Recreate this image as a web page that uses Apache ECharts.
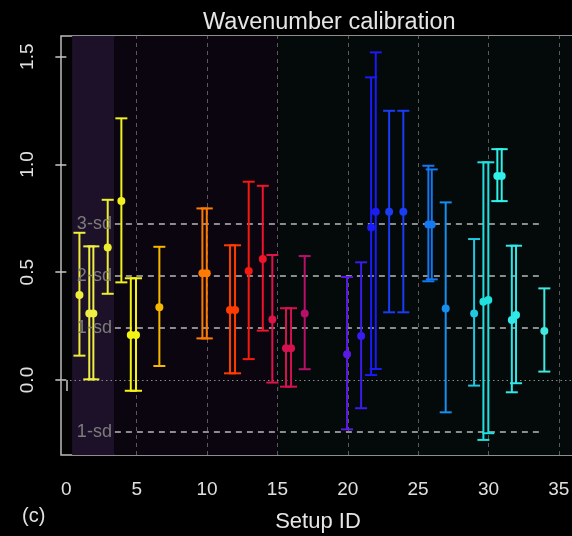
<!DOCTYPE html>
<html>
<head>
<meta charset="utf-8">
<script src="https://cdn.jsdelivr.net/npm/echarts/dist/echarts.min.js"></script>
<style>
html,body{margin:0;padding:0;background:#000;}
#chart{width:572px;height:536px;}
</style>
</head>
<body>
<div id="chart"></div>
<script>
// ---- data ----
var setupX = [0.93, 1.63, 1.92, 2.94, 3.91, 4.58, 4.95, 6.61, 9.67, 9.98, 11.63, 11.99, 12.96, 13.96, 14.64, 15.61, 15.97, 16.94, 19.95, 20.95, 21.66, 21.99, 22.94, 23.95, 25.73, 25.97, 26.96, 28.98, 29.64, 29.99, 30.63, 30.94, 31.66, 31.96, 33.97];
var means  = [0.394, 0.309, 0.309, 0.615, 0.830, 0.209, 0.209, 0.337, 0.495, 0.495, 0.325, 0.325, 0.506, 0.561, 0.281, 0.147, 0.147, 0.309, 0.120, 0.204, 0.708, 0.781, 0.781, 0.781, 0.722, 0.722, 0.332, 0.309, 0.363, 0.371, 0.946, 0.946, 0.278, 0.301, 0.227];
var lower  = [0.113, 0.003, 0.003, 0.400, 0.453, -0.050, -0.050, 0.065, 0.193, 0.193, 0.031, 0.031, 0.097, 0.229, -0.012, -0.031, -0.031, 0.050, -0.229, -0.131, 0.023, 0.051, 0.314, 0.314, 0.458, 0.467, -0.150, -0.026, -0.278, -0.247, 0.830, 0.830, -0.057, -0.015, 0.039];
var upper  = [0.683, 0.620, 0.620, 0.836, 1.214, 0.472, 0.472, 0.618, 0.796, 0.796, 0.625, 0.625, 0.920, 0.901, 0.580, 0.333, 0.333, 0.575, 0.478, 0.546, 1.404, 1.520, 1.249, 1.249, 0.994, 0.977, 0.824, 0.654, 1.010, 1.010, 1.071, 1.071, 0.623, 0.623, 0.425];
var colors = ['#eeee3a', '#eeee44', '#eeee44', '#eeee30', '#f0f020', '#f4f414', '#f4f414', '#f5b800', '#ff7a00', '#ff7a00', '#ff3c00', '#ff3c00', '#f51a10', '#f0142a', '#dc1448', '#d41250', '#d41250', '#b8106a', '#5a1ae6', '#3a1cf0', '#1a1cf5', '#1a1cf5', '#1a3cf5', '#1a3cf5', '#1478f0', '#1478f0', '#1490f0', '#20c8e0', '#20e0e0', '#20e0e0', '#30f0e8', '#30f0e8', '#30e8e8', '#30e8e8', '#40e8e0'];

var sd = 0.2413;
var sdLevels = [3, 2, 1, -1];
var sdLabels = ['3-sd', '2-sd', '1-sd', '1-sd'];
var sdLineFrom = 3.45, sdLineTo = 33.85;

var xTicks = [0, 5, 10, 15, 20, 25, 30, 35];
var xGrid = [5, 10, 15, 20, 25, 30, 35];
var yTicks = [0, 0.5, 1.0, 1.5];
var yTickLabels = ['0.0', '0.5', '1.0', '1.5'];

var bandFrom = [0.41, 3.40, 15.05];
var bandTo   = [3.40, 15.05, 36.15];
var bandColors = ['#1c1128', '#0b0510', '#040909'];

var xMin = -0.38, xMax = 36.15, yMin = -0.348, yMax = 1.596;

// ---- build ----
var errData = setupX.map(function (x, i) { return [x, means[i], lower[i], upper[i]]; });

var markAreaData = bandFrom.map(function (f, i) {
  return [{ xAxis: f, itemStyle: { color: bandColors[i] } }, { xAxis: bandTo[i] }];
});

var gridLines = xGrid.map(function (v) { return { xAxis: v }; });

var sdLines = sdLevels.map(function (k, i) {
  return [
    { coord: [sdLineFrom, k * sd], label: { formatter: sdLabels[i] } },
    { coord: [sdLineTo, k * sd] }
  ];
});

var chart = echarts.init(document.getElementById('chart'), null, { renderer: 'canvas' });

var textFont = 'Liberation Sans';

chart.setOption({
  backgroundColor: '#000',
  animation: false,
  title: {
    text: 'Wavenumber calibration',
    left: 198,
    top: 6,
    textStyle: { color: '#e6e6e6', fontSize: 23.5, fontWeight: 'normal', fontFamily: textFont }
  },
  grid: {
    left: 61, top: 36, bottom: 81, right: -3,
    outerBoundsMode: 'none', containLabel: false,
    show: true, backgroundColor: '#030303', borderColor: '#bdbdbd', borderWidth: 1.5
  },
  xAxis: {
    type: 'value', min: xMin, max: xMax,
    name: 'Setup ID', nameLocation: 'middle', nameGap: 56,
    nameTextStyle: { color: '#e6e6e6', fontSize: 22, fontFamily: textFont },
    axisLine: { show: false },
    axisTick: { show: true, length: 11, customValues: xTicks, lineStyle: { color: '#c8c8c8', width: 1.5 } },
    axisLabel: { customValues: xTicks, color: '#e0e0e0', fontSize: 19, fontFamily: textFont, margin: 25 },
    splitLine: { show: false }
  },
  yAxis: {
    type: 'value', min: yMin, max: yMax,
    axisLine: { show: false },
    axisTick: { show: true, length: 11, customValues: yTicks, lineStyle: { color: '#c8c8c8', width: 1.5 } },
    axisLabel: {
      customValues: yTicks, rotate: 90, color: '#e0e0e0', fontSize: 19, fontFamily: textFont, margin: 24,
      formatter: function (v) { var i = yTicks.indexOf(v); return i >= 0 ? yTickLabels[i] : ''; }
    },
    splitLine: { show: false }
  },
  graphic: [{
    type: 'text', left: 22, top: 506,
    style: { text: '(c)', fill: '#e0e0e0', fontSize: 20, fontFamily: textFont }
  }],
  series: [
    {
      type: 'line', data: [], silent: true, z: 1,
      markArea: { silent: true, data: markAreaData },
      markLine: {
        silent: true, symbol: ['none', 'none'],
        label: { show: false },
        lineStyle: { color: '#5a5a5a', type: [4, 4], width: 1 },
        data: gridLines.concat([{ yAxis: 0, lineStyle: { color: '#8a8a8a', type: [1.5, 3], width: 1 } }])
      }
    },
    {
      type: 'line', data: [], silent: true, z: 2,
      markLine: {
        silent: true, symbol: ['none', 'none'],
        label: { show: true, position: 'start', distance: 3, color: '#7c7c7c', fontSize: 18, fontFamily: textFont },
        lineStyle: { color: '#b8b8b8', type: [6, 5], width: 1.5 },
        data: sdLines
      }
    },
    {
      type: 'custom', z: 5,
      data: errData,
      renderItem: function (params, api) {
        var x = api.value(0), m = api.value(1), lo = api.value(2), hi = api.value(3);
        var pm = api.coord([x, m]), pl = api.coord([x, lo]), ph = api.coord([x, hi]);
        var c = colors[params.dataIndex];
        var cap = 6;
        var st = { stroke: c, lineWidth: 2 };
        return {
          type: 'group',
          children: [
            { type: 'line', shape: { x1: pl[0], y1: pl[1], x2: ph[0], y2: ph[1] }, style: st },
            { type: 'line', shape: { x1: pl[0] - cap, y1: pl[1], x2: pl[0] + cap, y2: pl[1] }, style: st },
            { type: 'line', shape: { x1: ph[0] - cap, y1: ph[1], x2: ph[0] + cap, y2: ph[1] }, style: st },
            { type: 'circle', shape: { cx: pm[0], cy: pm[1], r: 4 }, style: { fill: c } }
          ]
        };
      }
    }
  ]
});
</script>
</body>
</html>
